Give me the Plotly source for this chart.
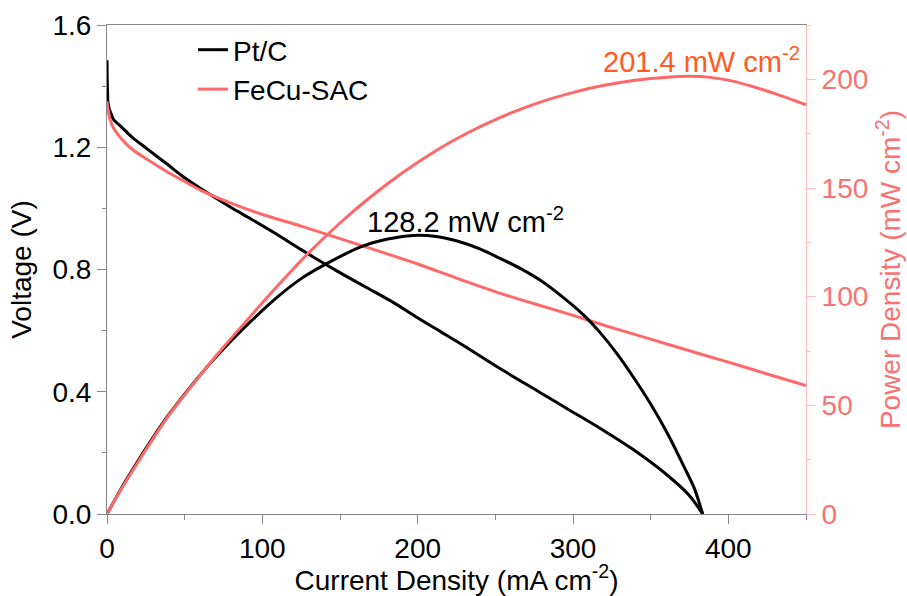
import plotly.graph_objects as go

# ---- data ----
# Pt/C polarization curve (current density mA cm-2, voltage V)
j_pt_v = [0, 0.1, 0.3, 0.6, 1.5, 3, 4.3, 8.6, 13, 17, 25, 38.6, 50, 60, 70, 81.5, 92.4,
          111.6, 125, 141.7, 155, 170, 185, 199.6, 215, 230, 253.3, 279, 296, 317.6, 339,
          360, 375, 383.5]
v_pt = [1.485, 1.44, 1.39, 1.35, 1.325, 1.305, 1.29, 1.27, 1.248, 1.229, 1.198, 1.145, 1.10,
        1.066, 1.034, 0.998, 0.966, 0.908, 0.865, 0.814, 0.775, 0.733, 0.69, 0.643, 0.596,
        0.55, 0.475, 0.397, 0.345, 0.28, 0.21, 0.13, 0.06, 0.0]

# FeCu-SAC polarization curve
j_fe_v = [0, 0.5, 1, 2, 4.3, 8.6, 13, 17, 25, 38.6, 50, 60, 81.5, 100, 125, 150, 175, 200,
          225, 253.3, 275, 300, 325, 350, 375, 400, 425, 450]
v_fe = [1.35, 1.33, 1.315, 1.29, 1.262, 1.232, 1.208, 1.19, 1.163, 1.12, 1.088, 1.06, 1.014,
        0.98, 0.942, 0.901, 0.86, 0.818, 0.772, 0.722, 0.688, 0.65, 0.61, 0.572, 0.534,
        0.497, 0.458, 0.42]

# Pt/C power density curve (mW cm-2)
j_pt_p = [0, 5, 10, 20, 30, 40, 58, 75, 92.4, 110, 125, 141.7, 163, 180, 197, 212, 225.4,
          240, 253.3, 266, 279, 293, 306.9, 318, 328.4, 339, 349.8, 361, 371.3, 378, 383.5]
p_pt = [0, 6.5, 12.8, 24.5, 35.6, 45.9, 62.3, 76.0, 88.5, 100, 108.3, 115.3, 122.8, 126.4,
        128.2, 127.7, 125.6, 122.0, 117.5, 113.0, 107.5, 100.0, 91.5, 83, 73.7, 62.8, 50.8,
        36.8, 22, 12, 0]

# FeCu-SAC power density curve
j_fe_p = [0, 5, 10, 20, 30, 40, 58, 75, 92.4, 110, 130, 150, 170, 190, 212.5, 232, 253,
          274.7, 296, 317.6, 340, 360.6, 375, 388.5, 402, 414.2, 430, 450]
p_fe = [0, 6.4, 12.4, 23.9, 35.0, 45.6, 62.0, 76.8, 91, 105.1, 120.3, 133.9, 146.1, 156.9,
        167.5, 175.3, 182.4, 188.5, 193.2, 196.9, 199.6, 201.0, 201.4, 200.9, 199.3, 197.0,
        193.4, 188.3]

series_names = ["Pt/C", "FeCu-SAC"]
peak_labels = ["128.2 mW cm<sup>-2</sup>", "201.4 mW cm<sup>-2</sup>"]
peak_pos_j = [231, 383]
peak_pos_p = [135.5, 209]

# ---- styling ----
FONT = "Liberation Sans, Arial, Helvetica, sans-serif"
BLACK = "#000000"
PINK = "#ff6868"
PINK_TXT = "#f87272"
PINK_AX = "#ffbdbd"
ORANGE = "#ff5a1f"
GREY = "#888888"
FS_TICK = 28
FS_TITLE = 28
FS_LEG = 28
FS_ANN = 29

fig = go.Figure()
fig.add_trace(go.Scatter(x=j_pt_v, y=v_pt, mode="lines", name=series_names[0],
                         line=dict(color=BLACK, width=3, shape="spline", smoothing=0.8)))
fig.add_trace(go.Scatter(x=j_fe_v, y=v_fe, mode="lines", name=series_names[1],
                         line=dict(color=PINK, width=3, shape="spline", smoothing=0.8)))
fig.add_trace(go.Scatter(x=j_pt_p, y=p_pt, mode="lines", name=series_names[0],
                         yaxis="y2", showlegend=False,
                         line=dict(color=BLACK, width=3, shape="spline", smoothing=0.8)))
fig.add_trace(go.Scatter(x=j_fe_p, y=p_fe, mode="lines", name=series_names[1],
                         yaxis="y2", showlegend=False,
                         line=dict(color=PINK, width=3, shape="spline", smoothing=0.8)))

fig.update_layout(
    width=907, height=596,
    margin=dict(l=107, r=101, t=25, b=82, autoexpand=False),
    paper_bgcolor="white", plot_bgcolor="white",
    font=dict(family=FONT, size=FS_TICK, color=BLACK),
    showlegend=True,
    legend=dict(x=0.123, y=1.0, xanchor="left", yanchor="top",
                bgcolor="rgba(0,0,0,0)", font=dict(size=FS_LEG), tracegroupgap=0),
    xaxis=dict(range=[0, 450], showline=True, linecolor=GREY, linewidth=1, mirror=True,
               ticks="outside", ticklen=9, tickwidth=1, tickcolor=GREY, automargin=False,
               tick0=0, dtick=100, showgrid=False, zeroline=False,
               tickfont=dict(size=FS_TICK, color=BLACK),
               minor=dict(ticks="outside", ticklen=5, dtick=50, tickcolor=GREY, showgrid=False),
               title=dict(text="Current Density (mA cm<sup>-2</sup>)",
                          font=dict(size=FS_TITLE), standoff=9)),
    yaxis=dict(range=[0, 1.6], showline=True, linecolor=GREY, linewidth=1,
               ticks="outside", ticklen=9, tickwidth=1, tickcolor=GREY, automargin=False,
               tick0=0, dtick=0.4, tickformat=".1f", showgrid=False, zeroline=False,
               tickfont=dict(size=FS_TICK, color=BLACK),
               minor=dict(ticks="outside", ticklen=4, dtick=0.2, tickcolor=GREY, showgrid=False),
               title=dict(text="Voltage (V)", font=dict(size=FS_TITLE), standoff=12)),
    yaxis2=dict(range=[0, 225], overlaying="y", side="right", anchor="x",
                showline=True, linecolor=PINK_AX, linewidth=1, automargin=False,
                ticks="outside", ticklen=9, tickwidth=1, tickcolor=PINK_AX,
                tick0=0, dtick=50, showgrid=False, zeroline=False,
                tickfont=dict(size=FS_TICK, color=PINK_TXT),
                minor=dict(ticks="outside", ticklen=4, dtick=25, tickcolor=PINK_AX,
                           showgrid=False),
                title=dict(text="Power Density (mW cm<sup>-2</sup>)",
                           font=dict(size=FS_TITLE, color=PINK_TXT), standoff=13)),
)

fig.add_annotation(x=peak_pos_j[0], y=peak_pos_p[0], xref="x", yref="y2",
                   text=peak_labels[0], showarrow=False,
                   font=dict(size=FS_ANN, color=BLACK), xanchor="center", yanchor="middle")
fig.add_annotation(x=peak_pos_j[1], y=peak_pos_p[1], xref="x", yref="y2",
                   text=peak_labels[1], showarrow=False,
                   font=dict(size=FS_ANN, color=ORANGE), xanchor="center", yanchor="middle")

fig.write_html("out.html")
